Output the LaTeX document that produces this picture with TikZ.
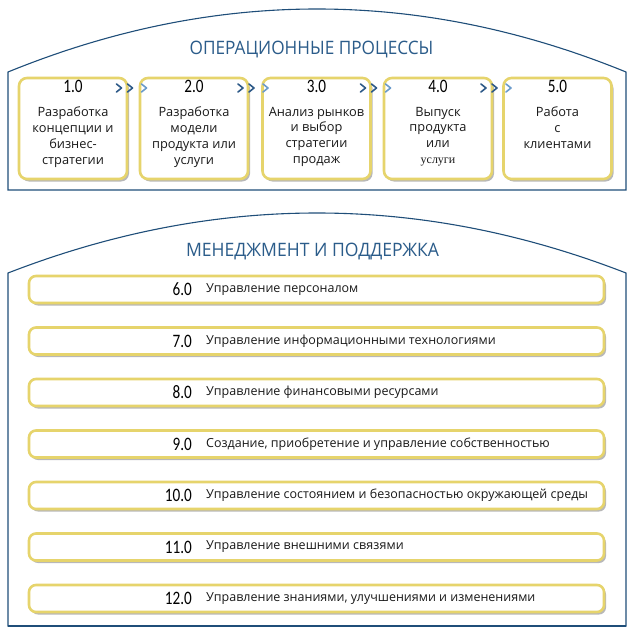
\documentclass[tikz,border=0pt]{standalone}
\usepackage{fontspec}
\setmainfont{Open Sans}
\newfontfamily\numfont{Carlito}
\newfontfamily\seriffont{Liberation Serif}
\usetikzlibrary{shadows}
\definecolor{frameblue}{HTML}{1F4E79}
\definecolor{titleblue}{HTML}{2B5C8A}
\definecolor{boxyellow}{HTML}{E6D46C}
\definecolor{chevdark}{HTML}{2E5A88}
\definecolor{chevlight}{HTML}{6A9BCB}
\newcommand{\numtxt}[1]{\scalebox{0.8}[1]{\numfont\fontsize{19}{19}\selectfont #1}}
\newcommand{\ttltxt}[2]{\scalebox{#1}[1]{#2}}
\begin{document}
\begin{tikzpicture}[x=1pt,y=-1pt,
  panel/.style={draw=frameblue, line width=1.1pt, fill=white},
  boxshadow/.style={drop shadow={shadow xshift=2pt, shadow yshift=-2.5pt, opacity=0.5, fill=black!55}},
  procbox/.style={draw=boxyellow, line width=2.6pt, rounded corners=8pt, fill=white,
    minimum width=108pt, minimum height=101pt, inner sep=0pt, boxshadow},
  mgmtbox/.style={draw=boxyellow, line width=2.6pt, rounded corners=7pt, fill=white,
    minimum width=575pt, minimum height=27pt, inner sep=0pt, boxshadow},
  paneltitle/.style={text=titleblue, font=\fontsize{18.5}{20}\selectfont, inner sep=0pt},
  procnum/.style={inner sep=0pt, text=black},
  proclabel/.style={inner sep=0pt, align=center, anchor=north, text=black!90,
    font=\fontsize{12.8}{15.8}\selectfont},
  mgmtnum/.style={inner sep=0pt, anchor=east, text=black},
  mgmtlabel/.style={inner sep=0pt, anchor=west, text=black!90, font=\fontsize{12.5}{14}\selectfont},
  chev/.style={line width=1.6pt, line cap=round, line join=round}
]
\useasboundingbox (0,0) rectangle (633,634);

% panels
\draw[panel] (8,190) -- (8,72) .. controls (214,-12) and (420,-12) .. (626,72) -- (626,190) -- cycle;
\draw[panel] (8,626) -- (8,273) .. controls (214,193) and (420,193) .. (626,273) -- (626,626) -- cycle;
\draw[frameblue, line width=1.8pt] (8,626) -- (626,626);

\node[paneltitle] (t1) at (311.5,50) {\ttltxt{0.93}{ОПЕРАЦИОННЫЕ ПРОЦЕССЫ}};
\node[paneltitle] (t2) at (312.5,252) {\ttltxt{0.95}{МЕНЕДЖМЕНТ И ПОДДЕРЖКА}};

% process boxes
\node[procbox] (p1) at (73,128.5) {};
\node[procbox] (p2) at (194,128.5) {};
\node[procbox] (p3) at (316.5,128.5) {};
\node[procbox] (p4) at (438,128.5) {};
\node[procbox] (p5) at (557.5,128.5) {};

\foreach \b/\n in {p1/1.0,p2/2.0,p3/3.0,p4/4.0,p5/5.0}{
  \node[procnum] (\b num) at ([yshift=-10pt]\b.north) {\numtxt{\n}};
}
\node[proclabel] (p1txt) at ([yshift=-30pt]p1.north) {Разработка\\концепции и\\бизнес-\\стратегии};
\node[proclabel] (p2txt) at ([yshift=-30pt]p2.north) {Разработка\\модели\\продукта или\\услуги};
\node[proclabel] (p3txt) at ([yshift=-30pt]p3.north) {Анализ рынков\\и выбор\\стратегии\\продаж};
\node[proclabel] (p4txt) at ([yshift=-30pt]p4.north) {Выпуск\\продукта\\или\\{\seriffont\fontsize{12}{15.8}\selectfont услуги}};
\node[proclabel] (p5txt) at ([yshift=-30pt]p5.north) {Работа\\с\\клиентами};

% chevrons
\foreach \g in {133.5,255,377.5,498}{
  \draw[chev, chevdark] (\g-17,84) -- (\g-12,88) -- (\g-17,92);
  \draw[chev, chevdark] (\g-6,84) -- (\g-1,88) -- (\g-6,92);
  \draw[chev, chevlight] (\g+8,84) -- (\g+13,88) -- (\g+8,92);
}

% management boxes
\foreach \i/\y/\n/\t in {
  6/289.5/6.0/Управление персоналом,
  7/341/7.0/Управление информационными технологиями,
  8/392.5/8.0/Управление финансовыми ресурсами,
  9/444/9.0/{Создание, приобретение и управление собственностью},
  10/495.5/10.0/Управление состоянием и безопасностью окружающей среды,
  11/547/11.0/Управление внешними связями,
  12/598.5/12.0/{Управление знаниями, улучшениями и изменениями}}{
  \node[mgmtbox] (m\i) at (316.5,\y) {};
  \node[mgmtnum] (m\i num) at (192,\y) {\numtxt{\n}};
  \node[mgmtlabel] (m\i txt) at (206,\y) {\t};
}
\end{tikzpicture}
\end{document}
